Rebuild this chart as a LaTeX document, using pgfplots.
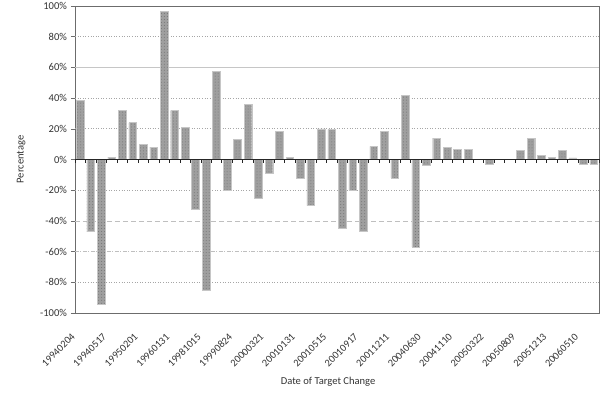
\documentclass[border=0pt]{standalone}
\usepackage{pgfplots}
\pgfplotsset{compat=1.18}
\usepackage{pgfplotstable}
\usepackage{fontspec}
\setmainfont{Carlito}
\usetikzlibrary{patterns}

\pgfplotstableread{
k v
1 38.5
2 -47
3 -94
4 1.5
5 32
6 24
7 10
8 8
9 96.5
10 32
11 21
12 -32.5
13 -85
14 57.5
15 -20
16 13
17 36
18 -25
19 -9
20 18.5
21 1.5
22 -12
23 -30
24 20
25 19.5
26 -45
27 -20
28 -47
29 8.5
30 18.5
31 -12
32 42
33 -57
34 -4
35 14
36 8
37 6.5
38 6.5
39 0
40 -3
41 0
42 0
43 6
44 14
45 2.5
46 1.5
47 6
48 1
49 -3
50 -3
}\data

\begin{document}
\begin{tikzpicture}
\begin{axis}[
  scale only axis, width=524bp, height=307bp,
  xmin=0.5, xmax=50.5, ymin=-100, ymax=100,
  axis line style={gray!85!black, line width=0.6pt},
  tick align=outside, major tick length=4bp,
  ytick pos=left,
  ytick={-100,-80,...,100},
  yticklabels={-100\%,-80\%,-60\%,-40\%,-20\%,0\%,20\%,40\%,60\%,80\%,100\%},
  ytick style={gray!85!black, line width=0.5pt},
  yticklabel style={font=\fontsize{10.6}{12}\selectfont, text=black!80, xshift=-0.5bp},
  xtick={1,4,...,49},
  xticklabels={19940204,19940517,19950201,19960131,19981015,19990824,20000321,20010131,20010515,20010917,20011211,20040630,20041110,20050322,20050809,20051213,20060510},
  xtick style={draw=none},
  xticklabel style={font=\fontsize{10.4}{12}\selectfont, text=black!80, xshift=-9.5bp, yshift=-15.5bp, rotate=45, anchor=north east, inner sep=0pt},
  xlabel={Date of Target Change},
  ylabel={Percentage},
  xlabel style={font=\fontsize{10.6}{12}\selectfont, text=black!80, at={(axis description cs:0.483,-0.225)}, anchor=center},
  ylabel style={font=\fontsize{10.6}{12}\selectfont, text=black!80, at={(axis description cs:-0.103,0.5)}, anchor=center},
  clip=false,
]
\coordinate (sw) at (rel axis cs:0,0);
\coordinate (ne) at (rel axis cs:1,1);
\draw[gray!70, dotted, line width=0.6pt] (axis cs:0.5,80) -- (axis cs:50.5,80);
\draw[gray!45, line width=0.7pt] (axis cs:0.5,60) -- (axis cs:50.5,60);
\draw[gray!70, dotted, line width=0.6pt] (axis cs:0.5,40) -- (axis cs:50.5,40);
\draw[gray!70, dotted, line width=0.6pt] (axis cs:0.5,20) -- (axis cs:50.5,20);
\draw[gray!70, dotted, line width=0.6pt] (axis cs:0.5,-20) -- (axis cs:50.5,-20);
\draw[gray!50, dash pattern=on 5bp off 3bp, line width=0.7pt] (axis cs:0.5,-40) -- (axis cs:50.5,-40);
\draw[gray!50, dash pattern=on 4bp off 1.5bp on 1bp off 1.5bp, line width=0.6pt] (axis cs:0.5,-60) -- (axis cs:50.5,-60);
\draw[gray!70, dotted, line width=0.6pt] (axis cs:0.5,-80) -- (axis cs:50.5,-80);
\addplot[ybar, bar width=0.73, fill=gray!75, draw=gray!45, line width=0.4pt,
  postaction={pattern=dots, pattern color=black!55}] table[x=k, y=v] {\data};
\draw[black!85, line width=0.6pt] (axis cs:0.5,0) -- (axis cs:50.5,0);
\pgfplotsinvokeforeach{0,...,50}{
  \draw[black!85, line width=0.5pt] (axis cs:#1+0.5,0) -- ([yshift=-4bp]axis cs:#1+0.5,0);
}
\end{axis}
\pgfresetboundingbox
\path ([shift={(-75bp,-80bp)}]sw) rectangle ([shift={(1bp,6bp)}]ne);
\end{tikzpicture}
\end{document}
